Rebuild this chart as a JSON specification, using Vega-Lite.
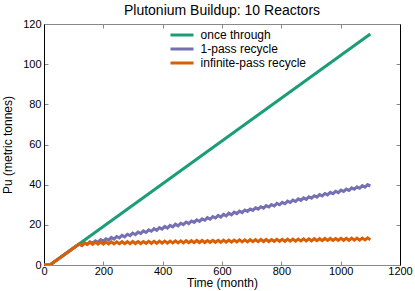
{
"$schema": "https://vega.github.io/schema/vega-lite/v6.json",
"width": 356, "height": 241,
"autosize": "none",
"padding": {"left": 44, "top": 24, "right": 15, "bottom": 26},
"background": "white",
"title": {"text": "Plutonium Buildup: 10 Reactors", "fontSize": 14, "font": "Liberation Sans", "fontWeight": "normal", "color": "black", "baseline": "bottom", "offset": 6, "dy": 20, "anchor": "middle", "frame": "group"},
"config": {
  "view": {"stroke": null},
  "font": "Liberation Sans",
  "axis": {"grid": false, "labelFont": "Liberation Sans", "titleFont": "Liberation Sans", "labelFontSize": 11, "titleFontSize": 12, "titleFontWeight": "normal", "labelColor": "black", "titleColor": "black", "tickColor": "#888888", "tickSize": -4, "tickWidth": 1, "domainWidth": 1, "format": "d"}
},
"datasets": {
  "once": [{"t":0,"v":0},{"t":20,"v":0},{"t":1100,"v":115}],
  "one": [{"t":0,"v":0},{"t":20,"v":0},
{"t":110,"v":9.6},{"t":119,"v":10.4},{"t":128,"v":9.7},{"t":137,"v":10.9},{"t":146,"v":10.2},{"t":155,"v":11.5},{"t":164,"v":10.8},{"t":173,"v":12.0},{"t":182,"v":11.3},{"t":191,"v":12.6},
{"t":200,"v":11.9},{"t":209,"v":13.1},{"t":218,"v":12.4},{"t":227,"v":13.7},{"t":236,"v":12.9},{"t":245,"v":14.2},{"t":254,"v":13.5},{"t":263,"v":14.8},{"t":272,"v":14.0},{"t":281,"v":15.3},
{"t":290,"v":14.6},{"t":299,"v":15.9},{"t":308,"v":15.1},{"t":317,"v":16.4},{"t":326,"v":15.7},{"t":335,"v":17.0},{"t":344,"v":16.2},{"t":353,"v":17.5},{"t":362,"v":16.8},{"t":371,"v":18.1},
{"t":380,"v":17.3},{"t":389,"v":18.6},{"t":398,"v":17.9},{"t":407,"v":19.2},{"t":416,"v":18.4},{"t":425,"v":19.7},{"t":434,"v":19.0},{"t":443,"v":20.3},{"t":452,"v":19.5},{"t":461,"v":20.8},
{"t":470,"v":20.1},{"t":479,"v":21.4},{"t":488,"v":20.6},{"t":497,"v":21.9},{"t":506,"v":21.2},{"t":515,"v":22.5},{"t":524,"v":21.7},{"t":533,"v":23.0},{"t":542,"v":22.3},{"t":551,"v":23.6},
{"t":560,"v":22.8},{"t":569,"v":24.1},{"t":578,"v":23.4},{"t":587,"v":24.7},{"t":596,"v":23.9},{"t":605,"v":25.2},{"t":614,"v":24.5},{"t":623,"v":25.8},{"t":632,"v":25.0},{"t":641,"v":26.3},
{"t":650,"v":25.6},{"t":659,"v":26.8},{"t":668,"v":26.1},{"t":677,"v":27.4},{"t":686,"v":26.7},{"t":695,"v":27.9},{"t":704,"v":27.2},{"t":713,"v":28.5},{"t":722,"v":27.8},{"t":731,"v":29.0},
{"t":740,"v":28.3},{"t":749,"v":29.6},{"t":758,"v":28.9},{"t":767,"v":30.1},{"t":776,"v":29.4},{"t":785,"v":30.7},{"t":794,"v":30.0},{"t":803,"v":31.2},{"t":812,"v":30.5},{"t":821,"v":31.8},
{"t":830,"v":31.1},{"t":839,"v":32.3},{"t":848,"v":31.6},{"t":857,"v":32.9},{"t":866,"v":32.2},{"t":875,"v":33.4},{"t":884,"v":32.7},{"t":893,"v":34.0},{"t":902,"v":33.3},{"t":911,"v":34.5},
{"t":920,"v":33.8},{"t":929,"v":35.1},{"t":938,"v":34.4},{"t":947,"v":35.6},{"t":956,"v":34.9},{"t":965,"v":36.2},{"t":974,"v":35.5},{"t":983,"v":36.7},{"t":992,"v":36.0},{"t":1001,"v":37.3},
{"t":1010,"v":36.6},{"t":1019,"v":37.8},{"t":1028,"v":37.1},{"t":1037,"v":38.4},{"t":1046,"v":37.7},{"t":1055,"v":38.9},{"t":1064,"v":38.2},{"t":1073,"v":39.5},{"t":1082,"v":38.8},{"t":1091,"v":40.0},
{"t":1100,"v":39.3}],
  "inf": [{"t":0,"v":0},{"t":20,"v":0},
{"t":110,"v":9.6},{"t":119,"v":10.5},{"t":128,"v":9.8},{"t":137,"v":11.0},{"t":146,"v":10.3},{"t":155,"v":11.3},{"t":164,"v":10.3},{"t":173,"v":11.4},{"t":182,"v":10.4},{"t":191,"v":11.4},
{"t":200,"v":10.4},{"t":209,"v":11.4},{"t":218,"v":10.5},{"t":227,"v":11.5},{"t":236,"v":10.5},{"t":245,"v":11.5},{"t":254,"v":10.6},{"t":263,"v":11.6},{"t":272,"v":10.6},{"t":281,"v":11.6},
{"t":290,"v":10.6},{"t":299,"v":11.7},{"t":308,"v":10.7},{"t":317,"v":11.7},{"t":326,"v":10.7},{"t":335,"v":11.7},{"t":344,"v":10.8},{"t":353,"v":11.8},{"t":362,"v":10.8},{"t":371,"v":11.8},
{"t":380,"v":10.8},{"t":389,"v":11.9},{"t":398,"v":10.9},{"t":407,"v":11.9},{"t":416,"v":10.9},{"t":425,"v":11.9},{"t":434,"v":11.0},{"t":443,"v":12.0},{"t":452,"v":11.0},{"t":461,"v":12.0},
{"t":470,"v":11.0},{"t":479,"v":12.1},{"t":488,"v":11.1},{"t":497,"v":12.1},{"t":506,"v":11.1},{"t":515,"v":12.2},{"t":524,"v":11.2},{"t":533,"v":12.2},{"t":542,"v":11.2},{"t":551,"v":12.2},
{"t":560,"v":11.3},{"t":569,"v":12.3},{"t":578,"v":11.3},{"t":587,"v":12.3},{"t":596,"v":11.3},{"t":605,"v":12.4},{"t":614,"v":11.4},{"t":623,"v":12.4},{"t":632,"v":11.4},{"t":641,"v":12.4},
{"t":650,"v":11.5},{"t":659,"v":12.5},{"t":668,"v":11.5},{"t":677,"v":12.5},{"t":686,"v":11.5},{"t":695,"v":12.6},{"t":704,"v":11.6},{"t":713,"v":12.6},{"t":722,"v":11.6},{"t":731,"v":12.7},
{"t":740,"v":11.7},{"t":749,"v":12.7},{"t":758,"v":11.7},{"t":767,"v":12.7},{"t":776,"v":11.8},{"t":785,"v":12.8},{"t":794,"v":11.8},{"t":803,"v":12.8},{"t":812,"v":11.8},{"t":821,"v":12.9},
{"t":830,"v":11.9},{"t":839,"v":12.9},{"t":848,"v":11.9},{"t":857,"v":12.9},{"t":866,"v":12.0},{"t":875,"v":13.0},{"t":884,"v":12.0},{"t":893,"v":13.0},{"t":902,"v":12.0},{"t":911,"v":13.1},
{"t":920,"v":12.1},{"t":929,"v":13.1},{"t":938,"v":12.1},{"t":947,"v":13.2},{"t":956,"v":12.2},{"t":965,"v":13.2},{"t":974,"v":12.2},{"t":983,"v":13.2},{"t":992,"v":12.3},{"t":1001,"v":13.3},
{"t":1010,"v":12.3},{"t":1019,"v":13.3},{"t":1028,"v":12.3},{"t":1037,"v":13.4},{"t":1046,"v":12.4},{"t":1055,"v":13.4},{"t":1064,"v":12.4},{"t":1073,"v":13.4},{"t":1082,"v":12.5},{"t":1091,"v":13.5},
{"t":1100,"v":12.5}]
},
"resolve": {"axis": {"x": "independent", "y": "independent"}},
"layer": [
  {
    "data": {"name": "once"},
    "mark": {"type": "line", "strokeWidth": 3, "clip": true},
    "encoding": {
      "x": {"field": "t", "type": "quantitative", "scale": {"domain": [0, 1200], "nice": false, "zero": false},
            "axis": {"orient": "bottom", "title": "Time (month)", "values": [0,200,400,600,800,1000,1200], "domainColor": "#888888", "labelPadding": 4, "titlePadding": 1, "labelFlush": false}},
      "y": {"field": "v", "type": "quantitative", "scale": {"domain": [0, 120], "nice": false, "zero": false},
            "axis": {"orient": "left", "title": "Pu (metric tonnes)", "values": [0,20,40,60,80,100,120], "domainColor": "black", "labelPadding": 7, "titlePadding": 8, "labelFlush": false}},
      "color": {"datum": "once through", "type": "nominal",
                "scale": {"domain": ["once through", "1-pass recycle", "infinite-pass recycle"], "range": ["#1b9e77", "#7570b3", "#d95f02"]},
                "legend": {"title": null, "orient": "none", "legendX": 132, "legendY": 5, "padding": 0, "symbolType": "M-3,0H3", "symbolSize": 59, "symbolStrokeWidth": 3, "labelOffset": 12.6, "labelFontSize": 12, "labelFont": "Liberation Sans", "labelColor": "black", "rowPadding": 2, "symbolFillColor": "transparent"}}
    }
  },
  {
    "data": {"name": "one"},
    "mark": {"type": "line", "strokeWidth": 3, "clip": true},
    "encoding": {
      "x": {"field": "t", "type": "quantitative", "axis": {"orient": "top", "title": null, "labels": false, "values": [0,200,400,600,800,1000,1200], "domainColor": "#888888"}},
      "y": {"field": "v", "type": "quantitative", "axis": {"orient": "right", "title": null, "labels": false, "values": [0,20,40,60,80,100,120], "domainColor": "black"}},
      "color": {"datum": "1-pass recycle", "type": "nominal"}
    }
  },
  {
    "data": {"name": "inf"},
    "mark": {"type": "line", "strokeWidth": 3, "clip": true},
    "encoding": {
      "x": {"field": "t", "type": "quantitative", "axis": null},
      "y": {"field": "v", "type": "quantitative", "axis": null},
      "color": {"datum": "infinite-pass recycle", "type": "nominal"}
    }
  }
]
}
